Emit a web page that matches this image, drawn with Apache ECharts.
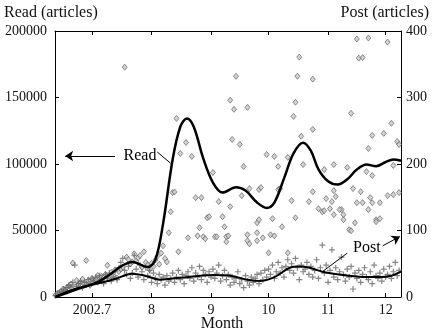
<!DOCTYPE html>
<html><head><meta charset="utf-8">
<script src="https://cdn.jsdelivr.net/npm/echarts@6/dist/echarts.min.js"></script>
<style>html,body{margin:0;padding:0;background:#fff}#c{width:434px;height:334px}</style>
</head><body><div id="c"></div>
<script>
// x values are days counted from 2002-07-01
const monthTicks = [0, 31, 62, 92, 123, 153];
const monthLabels = ['2002.7', '8', '9', '10', '11', '12'];

// daily read counts (day, articles)
const readPoints = [
  [-19,1500],[-18,2800],[-17,3500],[-16,4200],[-15,6000],[-14,5200],[-13,7500],[-12,8200],[-11,9800],[-10,25500],
  [-9,7800],[-8,12500],[-7,9200],[-6,11000],[-5,13500],[-4,10200],[-3,27500],[-2,12400],[-1,8800],[0,14000],
  [1,11200],[2,13300],[3,16200],[4,12000],[5,15500],[6,14200],[7,17000],[8,23800],[9,13400],[10,18500],
  [11,16000],[12,20400],[13,14500],[14,19200],[15,21000],[16,22500],[17,172800],[18,30000],[19,28200],[20,25000],
  [21,26400],[22,32500],[23,27000],[24,29500],[25,31200],[26,22400],[27,34000],[28,26000],[29,24200],[30,20500],
  [31,25300],[32,23000],[33,27800],[34,30500],[35,24600],[36,33000],[37,38500],[38,29000],[39,26400],
  [44,134300],[46,107900],[49,116200],[52,105700],[63,93600],
  [72,148000],[74,141100],[75,166000],[73,118500],[77,114700],[79,98100],[81,142600],
  [91,107200],[95,105700],[97,98100],[102,105000],
  [105,135800],[106,146400],[107,166000],[108,180400],[109,120800],[110,99600],
  [115,163800],[115,126000],[121,95800],[126,99600],[133,97400],[135,138100],
  [138,194000],[139,179600],[141,180000],[143,94300],[144,194700],[144,111700],[146,121500],[146,91300],
  [152,123000],[154,191700],[156,130600],[157,98900],[159,117000],[160,114700],
  [42,78500],[43,79000],[54,74700],[57,74700],[66,71700],[72,67900],[78,76200],[82,81500],[87,80800],[88,82300],
  [97,80800],[98,81500],[104,72500],[113,71700],[115,79200],[118,66400],[120,64100],[122,74000],[124,66400],[125,71700],
  [126,80000],[127,75500],[130,65700],[136,81500],[138,70900],[140,79200],[141,70900],[144,65700],[145,74700],[146,70900],
  [150,70900],[154,76200],[157,77000],[160,78500],
  [40,48300],[41,64100],[45,34000],[50,44500],[55,46000],[56,52100],[58,45300],[59,43800],[60,59600],[61,60400],
  [64,45300],[65,45300],[68,60400],[69,52800],[70,45300],[71,46000],[70,41500],[81,46800],[81,42300],[82,40000],
  [86,55800],[86,42300],[86,48300],[87,58100],[89,44500],[92,33200],[93,46800],[94,58900],[95,46000],[99,52800],
  [102,33200],[106,59600],[121,64900],[126,61900],[129,65700],[131,61900],[131,58100],[134,50600],[135,49800],[137,55800],
  [148,58100],[148,56600],[150,58900]
];

// daily post counts starting at postStartDay
const postStartDay = -19;
const postDaily = [
  2,4,6,8,12,10,14,18,15,22,
  48,16,20,24,14,22,18,26,20,28,
  24,30,22,32,26,20,34,28,36,24,
  30,38,26,44,52,58,40,34,46,28,
  36,62,42,30,48,38,26,44,32,40,
  22,36,28,20,34,26,30,18,32,24,
  28,36,22,30,40,26,34,20,32,38,
  28,44,24,36,30,46,26,40,34,22,
  38,30,42,28,36,48,24,32,40,26,
  34,18,30,22,28,38,20,26,14,32,
  24,18,30,22,28,34,20,36,26,40,
  30,42,34,48,28,38,52,36,44,30,
  46,56,40,50,36,58,44,26,48,38,
  42,52,34,46,30,40,56,28,44,78,
  36,48,22,40,71,30,44,26,38,60,
  34,24,42,30,46,12,36,28,40,22,
  34,44,30,26,38,20,48,32,28,36,
  24,42,30,34,46,28,38,52,32,40
];

// smoothed trends
const readCurve = [
  [-19,0],[-9,5300],[2,10600],[9,16600],[15,23000],[21,26400],[29,22600],[33,28000],[37,55000],[42,103400],
  [46,128000],[49.5,134300],[53,128000],[58,104000],[63,86000],[68,78500],[75,82500],[80,80000],[86,71000],
  [91,67000],[95,71000],[100,89000],[105,108000],[110,116000],[114,110000],[118,96000],[123,87000],[128,84500],
  [133,88500],[138,95800],[143,99600],[148,98300],[153,101500],[157,103400],[161,102400]
];
const postCurve = [
  [-19,0],[-9,12],[4,21],[12,27],[21,35],[27.6,32],[35.4,26],[46,29],[63,33],[72,32],[81,26],[87.5,24],
  [95,30],[103,44],[108,46],[113.5,44],[120,38],[134,32],[143,30],[150,30],[156,32],[161,38]
];

const xMin = -19.3, xMax = 161;
const FONT = 'Liberation Serif';
const chart = echarts.init(document.getElementById('c'), null, {renderer: 'canvas'});
const postPoints = postDaily.map((v, i) => [postStartDay + i, v]);
const lineCol = '#000';
const plain = v => String(v);

chart.setOption({
  animation: false,
  backgroundColor: '#fff',
  grid: {left: 55, right: 33, top: 31, bottom: 37},
  xAxis: [
    {type: 'value', position: 'bottom', min: xMin, max: xMax,
     axisLine: {show: true, onZero: false, lineStyle: {color: lineCol, width: 1}},
     axisTick: {show: true, inside: true, length: 4, customValues: monthTicks, lineStyle: {color: lineCol}},
     axisLabel: {customValues: monthTicks, formatter: v => monthLabels[monthTicks.indexOf(v)],
                 fontFamily: FONT, fontSize: 14, color: '#111', margin: 6},
     splitLine: {show: false}},
    {type: 'value', position: 'top', min: xMin, max: xMax,
     axisLine: {show: true, onZero: false, lineStyle: {color: lineCol, width: 1}},
     axisTick: {show: true, inside: true, length: 4, customValues: monthTicks, lineStyle: {color: lineCol}},
     axisLabel: {show: false}, splitLine: {show: false}}
  ],
  yAxis: [
    {type: 'value', position: 'left', min: 0, max: 200000, interval: 50000,
     axisLine: {show: true, onZero: false, lineStyle: {color: lineCol, width: 1}},
     axisTick: {show: true, inside: true, length: 4, lineStyle: {color: lineCol}},
     axisLabel: {formatter: plain, fontFamily: FONT, fontSize: 14, color: '#111', margin: 8},
     splitLine: {show: false}},
    {type: 'value', position: 'right', min: 0, max: 400, interval: 100,
     axisLine: {show: true, onZero: false, lineStyle: {color: lineCol, width: 1}},
     axisTick: {show: true, inside: true, length: 4, lineStyle: {color: lineCol}},
     axisLabel: {formatter: plain, fontFamily: FONT, fontSize: 14, color: '#111', margin: 5},
     splitLine: {show: false}}
  ],
  series: [
    {type: 'scatter', name: 'Read daily', xAxisIndex: 0, yAxisIndex: 0, data: readPoints,
     symbol: 'diamond', symbolSize: [5, 6],
     itemStyle: {color: '#c8c8c8', borderColor: '#555', borderWidth: 0.8}, z: 2, silent: true},
    {type: 'scatter', name: 'Post daily', xAxisIndex: 0, yAxisIndex: 1, data: postPoints,
     symbol: 'path://M2,0h1v2h2v1h-2v2h-1v-2h-2v-1h2z', symbolSize: 6,
     itemStyle: {color: '#666'}, z: 2, silent: true},
    {type: 'line', name: 'Read', xAxisIndex: 0, yAxisIndex: 0, data: readCurve,
     smooth: 0.35, showSymbol: false, symbol: 'none',
     lineStyle: {color: '#000', width: 2.5}, z: 5, silent: true,
     markLine: {silent: true, animation: false, symbolSize: 8,
       label: {show: false}, lineStyle: {color: '#000', width: 1, type: 'solid'},
       data: [
         [{coord: [12, 106000], symbol: 'none'}, {coord: [-14, 106000], symbol: 'arrow'}],
         [{coord: [34, 109000], symbol: 'none'}, {coord: [41, 100500], symbol: 'none'}]
       ]}},
    {type: 'line', name: 'Post', xAxisIndex: 0, yAxisIndex: 1, data: postCurve,
     smooth: 0.35, showSymbol: false, symbol: 'none',
     lineStyle: {color: '#000', width: 2}, z: 5, silent: true,
     markLine: {silent: true, animation: false, symbolSize: 8,
       label: {show: false}, lineStyle: {color: '#000', width: 1, type: 'solid'},
       data: [
         [{coord: [133, 66], symbol: 'none'}, {coord: [120, 38], symbol: 'none'}],
         [{coord: [151.5, 77], symbol: 'none'}, {coord: [160.4, 91], symbol: 'arrow'}]
       ]}}
  ]
});

const pRead = chart.convertToPixel({xAxisIndex: 0, yAxisIndex: 0}, [25, 106400]);
const pPost = chart.convertToPixel({xAxisIndex: 0, yAxisIndex: 1}, [143.2, 74]);
chart.setOption({
  graphic: [
    {type: 'text', left: 4, top: 5, style: {text: 'Read (articles)', font: '16px "Liberation Serif"', fill: '#111'}},
    {type: 'text', right: 5, top: 5, style: {text: 'Post (articles)', font: '16px "Liberation Serif"', fill: '#111'}},
    {type: 'text', x: 222, y: 324, style: {text: 'Month', font: '16px "Liberation Serif"', fill: '#111', align: 'center', verticalAlign: 'middle'}},
    {type: 'text', x: pRead[0], y: pRead[1], style: {text: 'Read', font: '16px "Liberation Serif"', fill: '#000', align: 'center', verticalAlign: 'middle'}, z: 10},
    {type: 'text', x: pPost[0], y: pPost[1], style: {text: 'Post', font: '16px "Liberation Serif"', fill: '#000', align: 'center', verticalAlign: 'middle'}, z: 10}
  ]
});
</script>
</body></html>
